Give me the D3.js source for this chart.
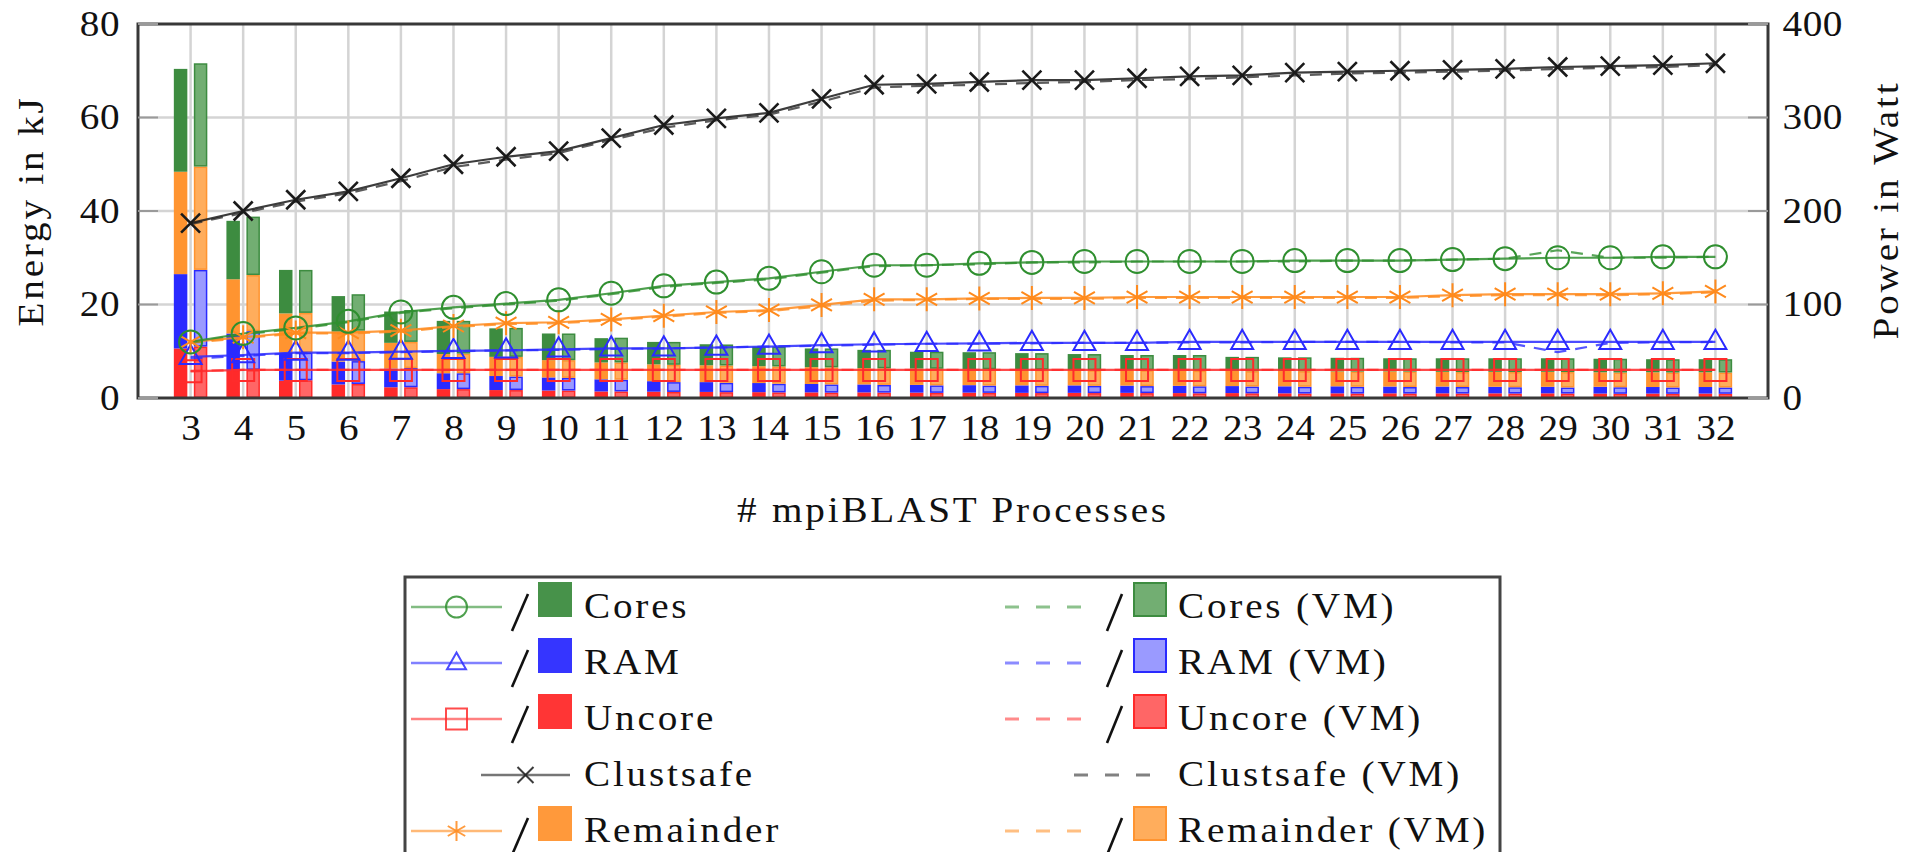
<!DOCTYPE html>
<html><head><meta charset="utf-8">
<script src="https://cdn.jsdelivr.net/npm/d3@7"></script>
<style>html,body{margin:0;padding:0;background:#fff;overflow:hidden}</style>
</head><body>
<svg id="chart" width="1909" height="852"></svg>
<script>
// ---------------- data ----------------
const processes = [3,4,5,6,7,8,9,10,11,12,13,14,15,16,17,18,19,20,21,22,23,24,25,26,27,28,29,30,31,32];
const yLeftTicks = [0,20,40,60,80];
const yRightTicks = [0,100,200,300,400];

// Energy in kJ (stack segments), native runs
const uncoreE    = [10.6,5.8,3.7,2.9,2.3,1.9,1.7,1.6,1.4,1.35,1.3,1.25,1.2,1.2,1.15,1.15,1.1,1.1,1.1,1.05,1.05,1.0,1.0,1.0,1.0,1.0,1.0,0.95,0.95,0.95];
const ramE       = [15.9,8.0,6.0,4.9,4.0,3.4,3.0,2.8,2.6,2.25,2.1,1.95,1.8,1.7,1.65,1.6,1.6,1.6,1.55,1.55,1.5,1.5,1.5,1.45,1.45,1.4,1.4,1.45,1.4,1.4];
const remainderE = [21.9,11.6,8.4,6.4,5.5,4.1,4.1,3.7,3.6,3.6,3.6,3.6,3.6,3.5,3.5,3.45,3.4,3.3,3.35,3.3,3.25,3.3,3.2,3.25,3.15,3.2,3.2,3.1,3.15,3.15];
const coresE     = [22.0,12.5,9.3,7.6,6.7,7.1,6.1,5.7,5.2,4.8,4.5,4.2,4.0,3.9,3.6,3.6,3.5,3.4,3.2,3.3,3.0,2.9,2.9,2.8,2.9,2.9,2.9,2.9,2.8,2.8];
// Energy in kJ (stack segments), VM runs
const uncoreEVM    = [11.0,6.0,3.8,3.0,2.3,1.9,1.7,1.6,1.4,1.3,1.25,1.2,1.15,1.15,1.1,1.1,1.05,1.05,1.05,1.0,1.0,0.95,0.95,0.95,0.95,0.95,0.95,0.9,0.9,0.9];
const ramEVM       = [16.4,8.3,5.9,4.9,4.1,3.4,2.9,2.7,2.5,2.1,2.0,1.85,1.75,1.65,1.6,1.55,1.55,1.55,1.5,1.5,1.45,1.45,1.45,1.4,1.4,1.35,1.3,1.4,1.35,1.35];
const remainderEVM = [22.1,12.0,8.5,6.5,5.6,4.2,4.2,3.8,3.7,3.7,3.7,3.7,3.65,3.55,3.55,3.5,3.45,3.35,3.4,3.35,3.3,3.35,3.25,3.3,3.2,3.25,3.3,3.15,3.2,3.2];
const coresEVM     = [22.1,12.5,9.2,7.8,6.8,7.0,6.2,5.7,5.3,4.9,4.5,4.25,4.05,3.95,3.65,3.65,3.55,3.45,3.25,3.35,3.05,2.95,2.95,2.85,2.95,2.95,2.95,2.95,2.85,2.85];

// Power in Watt
const coresP        = [60,69,75,82,92,97,101,105,112,120,124,128,135,142,142,144,145,146,146,146,146,147,147,147,148,149,150,150,151,151];
const coresPVM      = [59,68,74,81,91,96,100,104,111,119,123,127,134,141,142,143,145,145,146,146,146,146,147,147,148,149,158,150,150,151];
const ramP          = [44,46,48.5,48.5,49.5,50.5,51,52,53,53,54,55,56.5,57.5,58,58.5,59,59,59,60,60,60,60,60,60,60,60,60,60,60];
const ramPVM        = [42,45,48,48,49,50,51,51.5,52.5,53,54,55,56,57,58,58,58.5,59,59,59.5,59.5,60,60,60,59.5,59.5,49,59,59.5,60];
const uncoreP       = [28.5,30,30,30,30,30,30,30,30,30,30,30,30,30,30,30,30,30,30,30,30,30,30,30,30,30,30,30,30,30];
const uncorePVM     = [29,30,30,30,30,30,30,30,30,30,30,30,30,30,30,30,30,30,30,30,30,30,30,30,30,30,30,30,30,30];
const clustsafeP    = [187,200,212,221,235,250,258,264,278,292,299,305,320,335,336,338,340,340,342,344,345,348,349,350,351,352,354,355,356,358];
const clustsafePVM  = [186,198,210,219,232,247,255,262,276,289,297,303,317,332,334,335,337,338,340,341,343,345,347,348,349,350,352,353,354,356];
const remainderP    = [60,65,70,70,72,77,80,81,84,88,92,94,99.5,105.5,105.5,106.5,107,107,108,108,108,108,108,108,110,111,111,111,112,114];
const remainderPVM  = [59,64,69,69,71,76,79,80,83,87,91,93,98,104,105,106,106,106,107,107,107,107,107,107,109,110,110,110,111,113];

const legendNative = ["Cores","RAM","Uncore","Clustsafe","Remainder"];
const legendVM = ["Cores (VM)","RAM (VM)","Uncore (VM)","Clustsafe (VM)","Remainder (VM)"];
const xTitle = "# mpiBLAST Processes";
const yLeftTitle = "Energy in kJ";
const yRightTitle = "Power in Watt";

// ---------------- style ----------------
const C = {
  cores: "#3d8c40", ram: "#2a2aff", uncore: "#ff2a2a", remainder: "#ff9430", clust: "#1a1a1a",
  coresLine: "#2f8f2f", ramLine: "#2b2bff", uncoreLine: "#ff2b2b", remLine: "#ff8a1c"
};
const VMfill = { cores: "#72ae72", ram: "#9a9aff", uncore: "#ff6666", remainder: "#ffad5c" };
const FONT = "'Liberation Serif','Times New Roman',serif";
const SX = 1.12;

const svg = d3.select("#chart");
svg.append("rect").attr("width",1909).attr("height",852).attr("fill","#fff");

const L = 138, R = 1768, T = 24, B = 398;
const x = d3.scaleLinear().domain([2,33]).range([L,R]);
const yL = d3.scaleLinear().domain([0,80]).range([B,T]);
const yR = d3.scaleLinear().domain([0,400]).range([B,T]);

// grid
const grid = svg.append("g");
grid.selectAll("line.v").data(processes).join("line")
  .attr("x1",d=>x(d)).attr("x2",d=>x(d)).attr("y1",T).attr("y2",B)
  .attr("stroke","#d4d4d4").attr("stroke-width",2.5);
grid.selectAll("line.h").data(yLeftTicks.slice(1,-1)).join("line")
  .attr("x1",L).attr("x2",R).attr("y1",d=>yL(d)).attr("y2",d=>yL(d))
  .attr("stroke","#d4d4d4").attr("stroke-width",2.5);

// bars
const barW = 13.5, off = 10;
function stackBars(series, dx, vm) {
  const keys = ["uncore","ram","remainder","cores"];
  const rows = processes.map((p,i)=>{ const o={p}; keys.forEach((k,j)=>o[k]=series[j][i]); return o; });
  const st = d3.stack().keys(keys)(rows);
  const g = svg.append("g");
  st.forEach(layer=>{
    const k = layer.key;
    g.selectAll(null).data(layer).join("rect")
      .attr("x", d=>x(d.data.p)+dx-barW/2 + (vm?0.75:0))
      .attr("width", barW - (vm?1.5:0))
      .attr("y", d=>yL(d[1]) + (vm?0.75:0))
      .attr("height", d=>Math.max(0, yL(d[0])-yL(d[1]) - (vm?1.5:0)))
      .attr("fill", vm ? VMfill[k] : C[k])
      .attr("stroke", vm ? C[k] : "none")
      .attr("stroke-width", vm ? 1.5 : 0);
  });
}
stackBars([uncoreE, ramE, remainderE, coresE], -off, false);
stackBars([uncoreEVM, ramEVM, remainderEVM, coresEVM], off, true);

// lines
const lineGen = d3.line().x((d,i)=>x(processes[i])).y(d=>yR(d));
function drawLine(vals, color, dashed) {
  svg.append("path").datum(vals).attr("d", lineGen).attr("fill","none")
    .attr("stroke", color).attr("stroke-width", 2.2).attr("stroke-opacity", dashed?0.8:0.85)
    .attr("stroke-dasharray", dashed ? "12,9" : null);
}
drawLine(uncorePVM, C.uncoreLine, true);
drawLine(ramPVM, C.ramLine, true);
drawLine(remainderPVM, C.remLine, true);
drawLine(coresPVM, C.coresLine, true);
drawLine(clustsafePVM, "#333", true);
drawLine(uncoreP, C.uncoreLine, false);
drawLine(ramP, C.ramLine, false);
drawLine(remainderP, C.remLine, false);
drawLine(coresP, C.coresLine, false);
drawLine(clustsafeP, C.clust, false);

// marker shapes
const M = {
  circle: s => `M${s},0A${s},${s} 0 1,1 ${-s},0A${s},${s} 0 1,1 ${s},0Z`,
  triangle: s => `M0,${-s*1.1}L${s},${s*0.65}L${-s},${s*0.65}Z`,
  square: s => `M${-s},${-s}H${s}V${s}H${-s}Z`,
  times: s => `M${-s},${-s}L${s},${s}M${-s},${s}L${s},${-s}`,
  asterisk: s => `M0,${-s}V${s}M${-s*0.87},${-s*0.5}L${s*0.87},${s*0.5}M${-s*0.87},${s*0.5}L${s*0.87},${-s*0.5}`
};
function drawMarkers(vals, shape, size, color, sw) {
  svg.append("g").selectAll("path").data(vals).join("path")
    .attr("transform",(d,i)=>`translate(${x(processes[i])},${yR(d)})`)
    .attr("d", M[shape](size)).attr("fill","none").attr("stroke",color).attr("stroke-width",sw);
}
drawMarkers(uncoreP, "square", 11, C.uncoreLine, 2);
drawMarkers(ramP, "triangle", 11, C.ramLine, 2);
drawMarkers(remainderP, "asterisk", 12, C.remLine, 2);
drawMarkers(coresP, "circle", 11.5, C.coresLine, 2);
drawMarkers(clustsafeP, "times", 9.5, C.clust, 2.6);

// frame
svg.append("rect").attr("x",L).attr("y",T).attr("width",R-L).attr("height",B-T)
  .attr("fill","none").attr("stroke","#383838").attr("stroke-width",3);
// inner ticks
svg.append("g").selectAll("line").data(yLeftTicks).join("line")
  .attr("x1",L).attr("x2",L+20).attr("y1",d=>yL(d)).attr("y2",d=>yL(d))
  .attr("stroke","#9a9a9a").attr("stroke-width",2);
svg.append("g").selectAll("line").data(yRightTicks).join("line")
  .attr("x1",R-20).attr("x2",R).attr("y1",d=>yR(d)).attr("y2",d=>yR(d))
  .attr("stroke","#9a9a9a").attr("stroke-width",2);

// axes labels via d3 axes
function styleTicks(g, ls) {
  g.select(".domain").remove();
  g.selectAll(".tick line").remove();
  g.selectAll("text").attr("font-family",FONT).attr("font-size",35).attr("fill","#111")
    .attr("letter-spacing", ls).attr("transform",`scale(${SX},1)`);
}
const gL = svg.append("g").attr("transform",`translate(${L},0)`)
  .call(d3.axisLeft(yL).tickValues(yLeftTicks).tickSize(0).tickPadding(16).tickFormat(d3.format("d")));
styleTicks(gL, 0.5);
const gR = svg.append("g").attr("transform",`translate(${R},0)`)
  .call(d3.axisRight(yR).tickValues(yRightTicks).tickSize(0).tickPadding(13).tickFormat(d3.format("d")));
styleTicks(gR, 0.5);
const gB = svg.append("g").attr("transform",`translate(0,${B})`)
  .call(d3.axisBottom(x).tickValues(processes).tickSize(0).tickPadding(17).tickFormat(d3.format("d")));
styleTicks(gB, 0);

function label(txt, tx, ty, rot, anchor) {
  svg.append("text").text(txt)
    .attr("transform",`translate(${tx},${ty})${rot?` rotate(${rot})`:""} scale(${SX},1)`)
    .attr("text-anchor",anchor||"middle")
    .attr("font-family",FONT).attr("font-size",35).attr("letter-spacing",2.5).attr("fill","#111");
}
label(yLeftTitle, 43, 211, -90);
label(yRightTitle, 1898, 210, -90);
label(xTitle, 953, 522, 0);

// legend
const lg = svg.append("g");
lg.append("rect").attr("x",405).attr("y",577).attr("width",1095).attr("height",320)
  .attr("fill","#fff").attr("stroke","#444").attr("stroke-width",3);
const rowY = [607,663,719,775,831];
const nativeColors = [C.coresLine, C.ramLine, C.uncoreLine, C.clust, C.remLine];
const fillNative = [C.cores, C.ram, C.uncore, null, C.remainder];
const fillVM = [VMfill.cores, VMfill.ram, VMfill.uncore, null, VMfill.remainder];
const strokeVM = [C.cores, C.ram, C.uncore, null, C.remainder];
const shapes = ["circle","triangle","square","times","asterisk"];
const shapeSize = [10.5, 9.5, 10.5, 8, 10];
legendNative.forEach((name,i)=>{
  const cy = rowY[i];
  const isC = fillNative[i] === null;
  const x0 = isC ? 481 : 411, x1 = isC ? 570 : 502, mx = (x0+x1)/2;
  lg.append("line").attr("x1",x0).attr("x2",x1).attr("y1",cy).attr("y2",cy)
    .attr("stroke",nativeColors[i]).attr("stroke-width",2.4).attr("stroke-opacity",0.6);
  lg.append("path").attr("transform",`translate(${mx},${cy})`).attr("d",M[shapes[i]](shapeSize[i]))
    .attr("fill","none").attr("stroke",nativeColors[i]).attr("stroke-width",2).attr("stroke-opacity",0.85);
  if (!isC) {
    lg.append("line").attr("x1",512).attr("y1",cy+24).attr("x2",528).attr("y2",cy-13)
      .attr("stroke","#111").attr("stroke-width",2.6);
    lg.append("rect").attr("x",538).attr("y",cy-25).attr("width",34).attr("height",35)
      .attr("fill",fillNative[i]).attr("opacity",0.95);
  }
  lg.append("text").text(name).attr("transform",`translate(584,${cy+11}) scale(${SX},1)`)
    .attr("font-family",FONT).attr("font-size",35).attr("letter-spacing",2.5).attr("fill","#111");
});
legendVM.forEach((name,i)=>{
  const cy = rowY[i];
  const isC = fillVM[i] === null;
  const x0 = isC ? 1074 : 1005, x1 = isC ? 1153 : 1085;
  lg.append("line").attr("x1",x0).attr("x2",x1).attr("y1",cy).attr("y2",cy)
    .attr("stroke",nativeColors[i]).attr("stroke-width",3).attr("stroke-opacity",0.55)
    .attr("stroke-dasharray","14,17");
  if (!isC) {
    lg.append("line").attr("x1",1107).attr("y1",cy+24).attr("x2",1122).attr("y2",cy-13)
      .attr("stroke","#111").attr("stroke-width",2.6);
    lg.append("rect").attr("x",1134).attr("y",cy-24).attr("width",32).attr("height",33)
      .attr("fill",fillVM[i]).attr("stroke",strokeVM[i]).attr("stroke-width",2);
  }
  lg.append("text").text(name).attr("transform",`translate(1178,${cy+11}) scale(${SX},1)`)
    .attr("font-family",FONT).attr("font-size",35).attr("letter-spacing",2.5).attr("fill","#111");
});
</script>
</body></html>
